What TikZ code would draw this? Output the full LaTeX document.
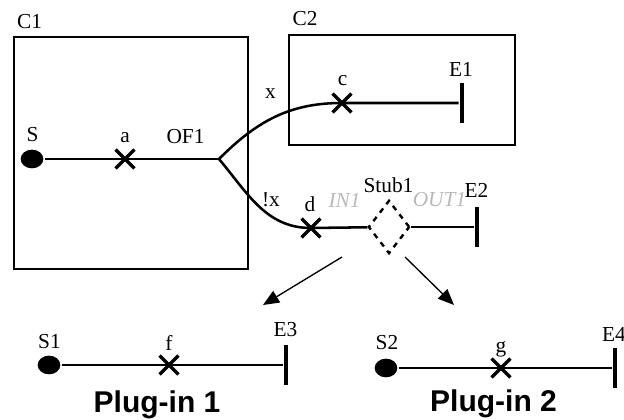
\documentclass[tikz,border=0pt]{standalone}
\usepackage{fontspec}
\setmainfont{Liberation Serif}
\setsansfont{Liberation Sans}
\usetikzlibrary{arrows.meta, positioning, shapes.geometric, shapes.misc}

\begin{document}
\begin{tikzpicture}[
  x=0.75pt, y=0.75pt,
  font=\fontsize{16}{18}\selectfont,
  >={Triangle[length=12pt, width=10pt]},  % Arrow tip
  line width=1.9pt,
  % Define element styles
  compbox/.style={
    draw,
    line width=2.1pt,
    inner sep=0pt
  },
  startdot/.style={
    ellipse,
    fill=black,
    minimum width=17pt,
    minimum height=14pt,
    inner sep=0pt
  },
  respcross/.style={
    cross out,
    draw,
    line width=2.6pt,
    minimum size=11.5pt,
    inner sep=0pt
  },
  endbar/.style={
    rectangle,
    fill=black,
    minimum width=3.2pt,
    minimum height=30pt,
    inner sep=0pt
  },
  stubshape/.style={
    diamond,
    draw,
    dash pattern=on 4pt off 4pt,
    line width=1.8pt,
    minimum width=31pt,
    minimum height=40pt,
    inner sep=0pt
  },
  lbl/.style={inner sep=0pt},
  portlbl/.style={
    inner sep=0pt,
    text=gray!55,
    font=\fontsize{16}{18}\selectfont\itshape
  },
  pluglbl/.style={
    inner sep=0pt,
    anchor=base,
    font=\fontsize{22.5}{26}\selectfont\sffamily\bfseries
  },
  % Arrows style
  connector/.style={
    ->,
    line width=1pt
  }
]
\useasboundingbox (0,0) rectangle (624,420);

% -----------------------------------------------
% COMPONENTS
% -----------------------------------------------
\node[compbox, minimum width=175.5pt, minimum height=174pt] (c1) at (131,267) {};
\node[lbl] (c1Lbl) at (29.5,398.5) {C1};

\node[compbox, minimum width=169.5pt, minimum height=82.5pt] (c2) at (402,330) {};
\node[lbl] (c2Lbl) at (305,401.5) {C2};

% -----------------------------------------------
% ROOT MAP
% -----------------------------------------------
\node[startdot] (s) at (32,261) {};
\node[respcross] (a) at (125,261) {};
\coordinate (fork) at (219,261);
\node[respcross] (c) at (342,317) {};
\node[endbar] (e1) at (462,317) {};
\node[respcross] (d) at (311,192) {};
\node[stubshape] (stub1) at (389,193) {};
\node[endbar] (e2) at (477,193) {};

\node[lbl] (sLbl) at (32.5,285) {S};
\node[lbl] (aLbl) at (125,282) {a};
\node[lbl] (of1Lbl) at (185.5,283.5) {OF1};
\node[lbl] (xLbl) at (270.5,326.5) {x};
\node[lbl] (notxLbl) at (271,220) {!x};
\node[lbl] (cLbl) at (342.5,339) {c};
\node[lbl] (e1Lbl) at (461,351) {E1};
\node[lbl] (dLbl) at (310,215.5) {d};
\node[lbl] (stubLbl) at (388.5,234.5) {Stub1};
\node[portlbl] (inLbl) at (344.5,220) {IN1};
\node[portlbl] (outLbl) at (439.5,220) {OUT1};
\node[lbl] (e2Lbl) at (476.5,230) {E2};

\draw (s) -- (fork);
\draw (fork) to[out=45, in=180] (c.center) -- (e1);
\draw (fork) to[out=-50, in=180] (d.center) -- (stub1);
\draw (stub1) -- (e2);

% -----------------------------------------------
% PLUG-INS
% -----------------------------------------------
\node[startdot] (s1) at (49,55) {};
\node[respcross] (f) at (169,55) {};
\node[endbar] (e3) at (286,55) {};
\node[lbl] (s1Lbl) at (49.5,78.5) {S1};
\node[lbl] (fLbl) at (169,77.5) {f};
\node[lbl] (e3Lbl) at (285.5,90.5) {E3};
\node[pluglbl] (plug1) at (157,7.3) {Plug-in 1};

\node[startdot] (s2) at (386,52) {};
\node[respcross] (g) at (501,52) {};
\node[endbar] (e4) at (615,52) {};
\node[lbl] (s2Lbl) at (387,77.5) {S2};
\node[lbl] (gLbl) at (501,71) {g};
\node[lbl] (e4Lbl) at (614,85.5) {E4};
\node[pluglbl] (plug2) at (493.5,8) {Plug-in 2};

\draw (s1) -- (e3);
\draw (s2) -- (e4);

% Stub to its plug-ins
\coordinate (stubOutA) at (342,163);
\coordinate (plugInA) at (263,115);
\coordinate (stubOutB) at (405,163);
\coordinate (plugInB) at (454,115);
\draw[connector] (stubOutA) -- (plugInA);
\draw[connector] (stubOutB) -- (plugInB);

\end{tikzpicture}
\end{document}
